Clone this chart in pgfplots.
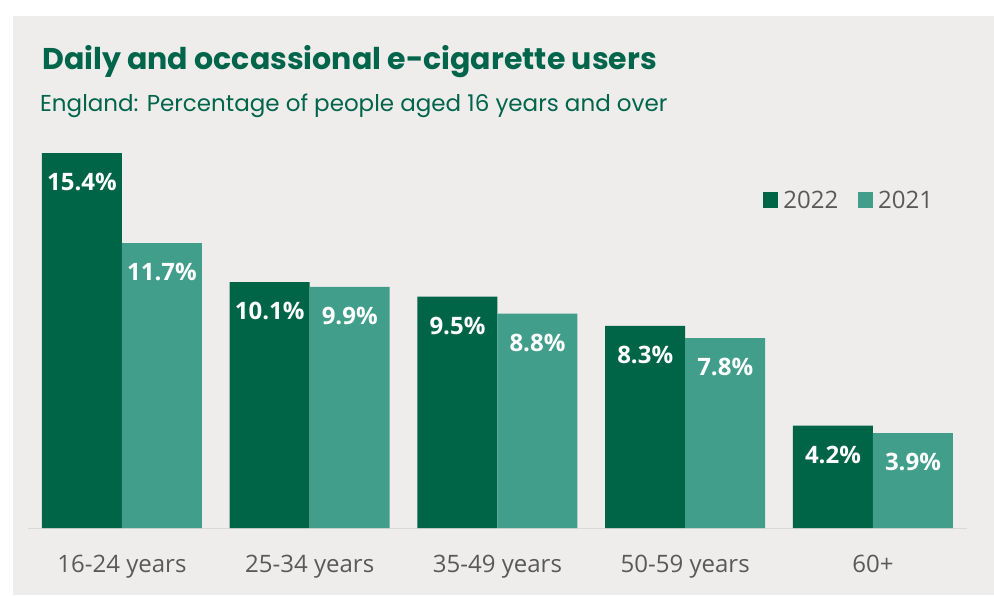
\documentclass[border=0pt]{standalone}
\usepackage{pgfplots}
\pgfplotsset{compat=1.18}
\usepackage{fontspec}
\setmainfont{Open Sans}
\newfontfamily\pop{Poppins}
\definecolor{bg}{HTML}{EEEDEC}
\definecolor{dark}{HTML}{006446}
\definecolor{light}{HTML}{419E8A}
\definecolor{ttl}{HTML}{00654A}
\definecolor{tick}{HTML}{595959}
\pgfplotstableread{
x v22 v21
0 15.4 11.7
1 10.1 9.9
2 9.5 8.8
3 8.3 7.8
4 4.2 3.9
}\data
\begin{document}
\begin{tikzpicture}[x=1pt,y=1pt]
\useasboundingbox (0,0) rectangle (994,595);
\fill[white] (0,0) rectangle (994,595);
\fill[bg] (13,0) rectangle (994,579);
\node[anchor=base west, inner sep=0pt, text=ttl, font=\pop\bfseries\fontsize{30}{34}\selectfont] at (42,525) {Daily and occassional e-cigarette users};
\node[anchor=base west, inner sep=0pt, text=ttl, font=\pop\fontsize{23}{27}\selectfont] at (40,483) {England: Percentage of people aged 16 years and over};
\begin{axis}[
  at={(28.1pt,67pt)}, anchor=south west,
  scale only axis, width=938.75pt, height=389.6pt,
  xmin=-0.5, xmax=4.5, ymin=0, ymax=16,
  ybar=0pt, bar width=80pt,
  axis x line=bottom, axis y line=none,
  x axis line style={-, draw=black!15, line width=1pt},
  major tick length=0pt,
  xtick=data,
  xticklabels={16-24 years,25-34 years,35-49 years,50-59 years,60+},
  xticklabel style={text=tick, font=\fontsize{24}{28}\selectfont, yshift=-24pt},
  /pgf/number format/assume math mode=true,
  nodes near coords={\pgfmathprintnumber[fixed,fixed zerofill,precision=1]{\pgfplotspointmeta}\%},
  every node near coord/.append style={anchor=center, yshift=-29pt, text=white, font=\bfseries\fontsize{24}{28}\selectfont},
  legend style={at={(0.783,0.841)}, anchor=west, draw=none, fill=none, inner sep=0pt,
    legend columns=2, font=\fontsize{24}{28}\selectfont, text=tick,
    /tikz/every odd column/.append style={column sep=3pt},
    /tikz/every even column/.append style={column sep=18pt}},
  legend image code/.code={\fill[#1] (0pt,-8pt) rectangle (15pt,8pt);},
  legend cell align=left,
]
\addplot[fill=dark, draw=none] table[x=x,y=v22] {\data};
\addplot[fill=light, draw=none] table[x=x,y=v21] {\data};
\legend{2022,2021}
\end{axis}
\end{tikzpicture}
\end{document}
